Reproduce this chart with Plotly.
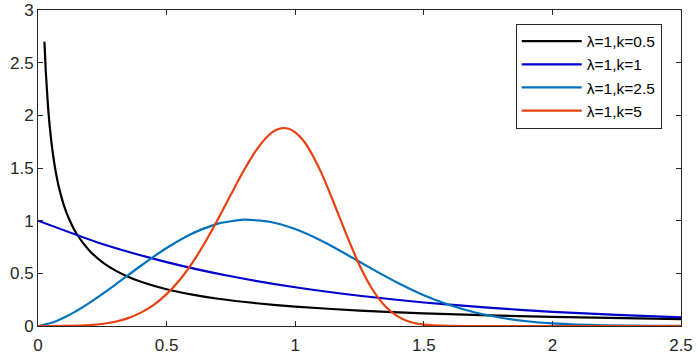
import plotly.graph_objects as go

# Values
x_k05 = [0.025, 0.03, 0.04, 0.05, 0.06, 0.07, 0.08, 0.09, 0.1, 0.12, 0.15, 0.2, 0.25, 0.3, 0.35,
         0.4, 0.5, 0.6, 0.7, 0.85, 1.0, 1.25, 1.5, 2.0, 2.5]
y_k05 = [2.70, 2.43, 2.05, 1.79, 1.60, 1.45, 1.33, 1.235, 1.15, 1.02, 0.876, 0.715, 0.607, 0.528,
         0.468, 0.420, 0.349, 0.298, 0.259, 0.216, 0.184, 0.146, 0.120, 0.086, 0.065]

x_k1 = [0, 0.25, 0.5, 0.75, 1.0, 1.25, 1.5, 1.75, 2.0, 2.25, 2.5]
y_k1 = [1.0, 0.779, 0.607, 0.472, 0.368, 0.287, 0.223, 0.174, 0.135, 0.105, 0.082]

x_k25 = [0, 0.05, 0.1, 0.15, 0.2, 0.3, 0.4, 0.5, 0.6, 0.7, 0.8, 0.9, 1.0, 1.1, 1.2, 1.3, 1.4, 1.5,
         1.6, 1.7, 1.8, 1.9, 2.0, 2.2, 2.4, 2.5]
y_k25 = [0, 0.028, 0.079, 0.144, 0.220, 0.391, 0.572, 0.741, 0.879, 0.972, 1.009, 0.990, 0.920, 0.811,
         0.679, 0.540, 0.408, 0.292, 0.199, 0.128, 0.078, 0.045, 0.025, 0.006, 0.001, 0.0005]

x_k5 = [0, 0.1, 0.2, 0.3, 0.35, 0.4, 0.45, 0.5, 0.55, 0.6, 0.65, 0.7, 0.75, 0.8, 0.85, 0.9,
        0.925, 0.95, 0.975, 1.0, 1.025, 1.05, 1.1, 1.15, 1.2, 1.25, 1.3, 1.35, 1.4, 1.45, 1.5,
        1.6, 1.7, 2.0, 2.5]
y_k5 = [0, 0.0005, 0.008, 0.040, 0.075, 0.127, 0.201, 0.303, 0.435, 0.600, 0.795, 1.015,
        1.248, 1.476, 1.675, 1.818, 1.860, 1.879, 1.872, 1.839, 1.780, 1.696, 1.463, 1.170,
        0.862, 0.577, 0.349, 0.188, 0.089, 0.036, 0.013, 0.001, 0, 0, 0]

names = ["λ=1,k=0.5", "λ=1,k=1", "λ=1,k=2.5", "λ=1,k=5"]
colors = ["#000000", "#0000CC", "#0072BD", "#E8400F"]

x_ticks = [0, 0.5, 1, 1.5, 2, 2.5]
y_ticks = [0, 0.5, 1, 1.5, 2, 2.5, 3]

fig = go.Figure()
for xs, ys, n, c in zip([x_k05, x_k1, x_k25, x_k5], [y_k05, y_k1, y_k25, y_k5], names, colors):
    fig.add_trace(go.Scatter(x=xs, y=ys, mode="lines", name=n,
                             line=dict(color=c, width=2.2, shape="spline", smoothing=0.6)))

axis_common = dict(showline=True, linecolor="#262626", linewidth=1, mirror="ticks",
                   ticks="inside", ticklen=5, tickcolor="#262626", showgrid=False,
                   zeroline=False, ticklabeloverflow="allow", automargin=False,
                   tickfont=dict(family="Liberation Sans", size=17, color="#262626"))

fig.update_layout(
    width=699, height=359,
    margin=dict(l=38, r=18, t=10, b=33),
    paper_bgcolor="white", plot_bgcolor="white",
    xaxis=dict(range=[0, 2.5], tickvals=x_ticks, ticktext=[str(v) for v in x_ticks],
               ticklabelstandoff=4, **axis_common),
    yaxis=dict(range=[0, 3], tickvals=y_ticks, ticktext=[str(v) for v in y_ticks], **axis_common),
    legend=dict(x=0.743, y=0.957, xanchor="left", yanchor="top",
                bordercolor="#262626", borderwidth=1, bgcolor="white",
                font=dict(family="Liberation Sans", size=15.5, color="#000000"),
                itemwidth=60, tracegroupgap=0),
    showlegend=True,
)

fig.write_html("out.html", config={"displayModeBar": False},
               post_script="document.body.style.margin='0px';")
